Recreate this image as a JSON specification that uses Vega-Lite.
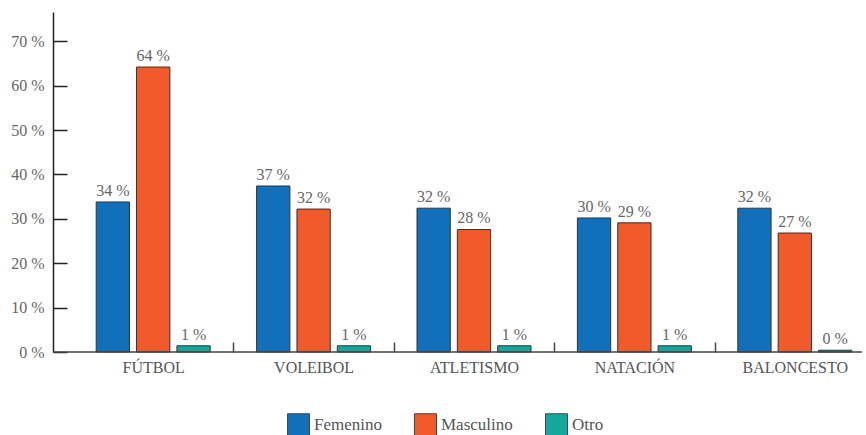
{
  "$schema": "https://vega.github.io/schema/vega-lite/v6.json",
  "width": 809,
  "height": 340,
  "autosize": {"type": "none"},
  "padding": {"left": 53, "top": 12, "right": 4, "bottom": 83},
  "background": "white",
  "config": {
    "view": {"stroke": null},
    "font": "Liberation Serif"
  },
  "data": {
    "values": [
      {"deporte": "FÚTBOL", "genero": "Femenino", "pct": 33.8},
      {"deporte": "FÚTBOL", "genero": "Masculino", "pct": 64.2},
      {"deporte": "FÚTBOL", "genero": "Otro", "pct": 1.4},
      {"deporte": "VOLEIBOL", "genero": "Femenino", "pct": 37.4},
      {"deporte": "VOLEIBOL", "genero": "Masculino", "pct": 32.2},
      {"deporte": "VOLEIBOL", "genero": "Otro", "pct": 1.4},
      {"deporte": "ATLETISMO", "genero": "Femenino", "pct": 32.4},
      {"deporte": "ATLETISMO", "genero": "Masculino", "pct": 27.6},
      {"deporte": "ATLETISMO", "genero": "Otro", "pct": 1.4},
      {"deporte": "NATACIÓN", "genero": "Femenino", "pct": 30.2},
      {"deporte": "NATACIÓN", "genero": "Masculino", "pct": 29.1},
      {"deporte": "NATACIÓN", "genero": "Otro", "pct": 1.4},
      {"deporte": "BALONCESTO", "genero": "Femenino", "pct": 32.4},
      {"deporte": "BALONCESTO", "genero": "Masculino", "pct": 26.8},
      {"deporte": "BALONCESTO", "genero": "Otro", "pct": 0.4}
    ]
  },
  "layer": [
    {
      "mark": {"type": "bar", "stroke": "#333333", "strokeWidth": 1},
      "encoding": {
        "x": {
          "field": "deporte",
          "type": "nominal",
          "sort": ["FÚTBOL", "VOLEIBOL", "ATLETISMO", "NATACIÓN", "BALONCESTO"],
          "scale": {"range": [20, 822], "paddingInner": 0, "paddingOuter": 0},
          "axis": {
            "title": null,
            "domain": false,
            "tickBand": "extent",
            "tickSize": -10,
            "tickWidth": 1.5,
            "tickColor": {"condition": {"test": "datum.extra", "value": "transparent"}, "value": "#444444"},
            "labelAngle": 0,
            "labelFont": "Liberation Serif",
            "labelFontSize": 16,
            "labelColor": "#555555",
            "labelPadding": 17
          }
        },
        "xOffset": {
          "field": "genero",
          "type": "nominal",
          "sort": ["Femenino", "Masculino", "Otro"],
          "scale": {"paddingInner": 0.175, "paddingOuter": 0.575}
        },
        "y": {
          "field": "pct",
          "type": "quantitative",
          "scale": {"domain": [0, 76.6], "nice": false},
          "axis": {
            "title": null,
            "grid": false,
            "values": [0, 10, 20, 30, 40, 50, 60, 70],
            "labelExpr": "datum.value + ' %'",
            "tickSize": -14,
            "tickColor": "#222222",
            "tickWidth": 1.5,
            "domainColor": "#222222",
            "domainWidth": 1.5,
            "labelFont": "Liberation Serif",
            "labelFontSize": 16,
            "labelColor": "#666666",
            "labelPadding": 23
          }
        },
        "color": {
          "field": "genero",
          "type": "nominal",
          "scale": {
            "domain": ["Femenino", "Masculino", "Otro"],
            "range": ["#1170B9", "#F15A2B", "#14A89C"]
          },
          "legend": {
            "orient": "none",
            "legendX": 234,
            "legendY": 401,
            "direction": "horizontal",
            "title": null,
            "symbolType": "square",
            "symbolSize": 484,
            "symbolStrokeColor": "#444444",
            "symbolStrokeWidth": 1,
            "symbolOpacity": 1,
            "labelFont": "Liberation Serif",
            "labelFontSize": 17,
            "labelColor": "#555555",
            "labelOffset": 4,
            "columnPadding": 30
          }
        }
      }
    },
    {
      "transform": [{"calculate": "format(datum.pct, '.0f') + ' %'", "as": "etiqueta"}],
      "mark": {"type": "text", "baseline": "alphabetic", "dy": -6, "fontSize": 16, "color": "#666666", "font": "Liberation Serif"},
      "encoding": {
        "x": {"field": "deporte", "type": "nominal", "sort": ["FÚTBOL", "VOLEIBOL", "ATLETISMO", "NATACIÓN", "BALONCESTO"]},
        "xOffset": {"field": "genero", "type": "nominal", "sort": ["Femenino", "Masculino", "Otro"]},
        "y": {"field": "pct", "type": "quantitative"},
        "text": {"field": "etiqueta"}
      }
    },
    {
      "data": {"values": [{}]},
      "mark": {"type": "rule", "color": "#444444", "strokeWidth": 1.5},
      "encoding": {"y": {"datum": 0}}
    }
  ]
}
